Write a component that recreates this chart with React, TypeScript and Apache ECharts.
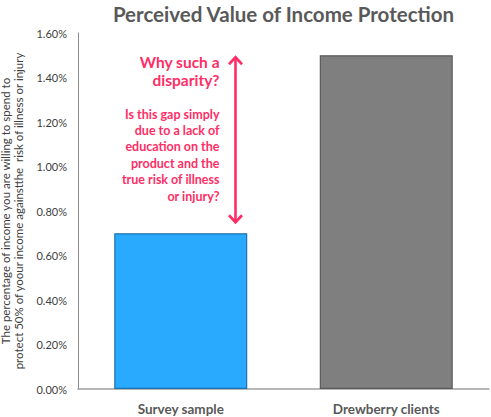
import React, { useEffect, useRef } from "react";
import * as echarts from "echarts";

const categories = ["Survey sample", "Drewberry clients"];
const values = [0.70, 1.50];
const barColors = ["#2aaaff", "#7f7f7f"];
const barBorders = ["#1a72b0", "#5a5a5a"];
const yTicks = { min: 0, max: 1.6, interval: 0.2 };
const titleText = "Perceived Value of Income Protection";
const yName =
  "The percentage of income you are willing to spend to\nprotect 50% of yoour income againstthe  risk of illness or injury";
const headlineLines = ["Why such a", "disparity?"];
const questionLines = [
  "Is this gap simply",
  "due to a lack of",
  "education on the",
  "product and the",
  "true risk of illness",
  "or injury?",
];

const FONT = "Lato, 'Open Sans', sans-serif";
const PINK = "#ff2e66";

export default function App() {
  const ref = useRef<HTMLDivElement>(null);
  useEffect(() => {
    document.body.style.margin = "0";
    const chart = echarts.init(ref.current!, undefined, { renderer: "svg" });
    chart.setOption({
      animation: false,
      backgroundColor: "#ffffff",
      textStyle: { fontFamily: FONT },
      title: {
        text: titleText,
        left: 278.5,
        textAlign: "center",
        top: -2,
        textStyle: { fontFamily: FONT, fontWeight: "bold", fontSize: 20.5, color: "#595959" },
      },
      grid: { left: 78, right: 2, top: 33, bottom: 28, containLabel: false, outerBoundsMode: "none" },
      xAxis: {
        type: "category",
        data: categories,
        axisLine: { lineStyle: { color: "#a0a0a0", width: 1.5 } },
        axisTick: { show: false },
        axisLabel: { fontFamily: FONT, fontWeight: "bold", fontSize: 13.5, color: "#595959", margin: 13 },
      },
      yAxis: {
        type: "value",
        min: yTicks.min,
        max: yTicks.max,
        interval: yTicks.interval,
        axisLine: { show: true, lineStyle: { color: "#8c8c8c", width: 1 } },
        axisTick: { show: false },
        splitLine: { show: false },
        axisLabel: {
          fontFamily: FONT,
          fontSize: 11,
          color: "#404040",
          margin: 11,
          formatter: (v: number) => v.toFixed(2) + "%",
        },
        name: yName,
        nameLocation: "middle",
        nameRotate: 90,
        nameGap: 46,
        nameTextStyle: { fontFamily: FONT, fontSize: 11.5, color: "#404040", lineHeight: 13.5 },
      },
      series: [
        {
          type: "bar",
          barWidth: 133,
          data: values.map((v, i) => ({
            value: v,
            itemStyle: { color: barColors[i], borderColor: barBorders[i], borderWidth: 1.2 },
          })),
        },
      ],
    });

    const yTop = chart.convertToPixel({ yAxisIndex: 0 }, values[1]) as number;
    const yLow = chart.convertToPixel({ yAxisIndex: 0 }, values[0]) as number;
    const ax = 235.5;
    const top = yTop + 1;
    const bot = yLow - 10;
    const texts: any[] = [];
    headlineLines.forEach((t, i) => {
      texts.push({
        type: "text",
        x: 219.5,
        y: 61.5 + i * 18.6,
        style: {
          text: t,
          align: "right",
          verticalAlign: "middle",
          fontFamily: FONT,
          fontWeight: "bold",
          fontSize: 15.5,
          fill: PINK,
        },
      });
    });
    questionLines.forEach((t, i) => {
      texts.push({
        type: "text",
        x: 219.5,
        y: 114 + i * 16.4,
        style: {
          text: t,
          align: "right",
          verticalAlign: "middle",
          fontFamily: FONT,
          fontWeight: "bold",
          fontSize: 12.5,
          fill: PINK,
        },
      });
    });
    chart.setOption({
      graphic: [
        {
          type: "line",
          shape: { x1: ax, y1: top + 1, x2: ax, y2: bot - 1 },
          style: { stroke: PINK, lineWidth: 2.6 },
        },
        {
          type: "polyline",
          shape: { points: [[ax - 6.5, top + 8], [ax, top + 1], [ax + 6.5, top + 8]] },
          style: { stroke: PINK, lineWidth: 2.6, fill: null },
        },
        {
          type: "polyline",
          shape: { points: [[ax - 6.5, bot - 8], [ax, bot - 1], [ax + 6.5, bot - 8]] },
          style: { stroke: PINK, lineWidth: 2.6, fill: null },
        },
        ...texts,
      ],
    });
    return () => chart.dispose();
  }, []);
  return <div ref={ref} style={{ width: 491, height: 417 }} />;
}
